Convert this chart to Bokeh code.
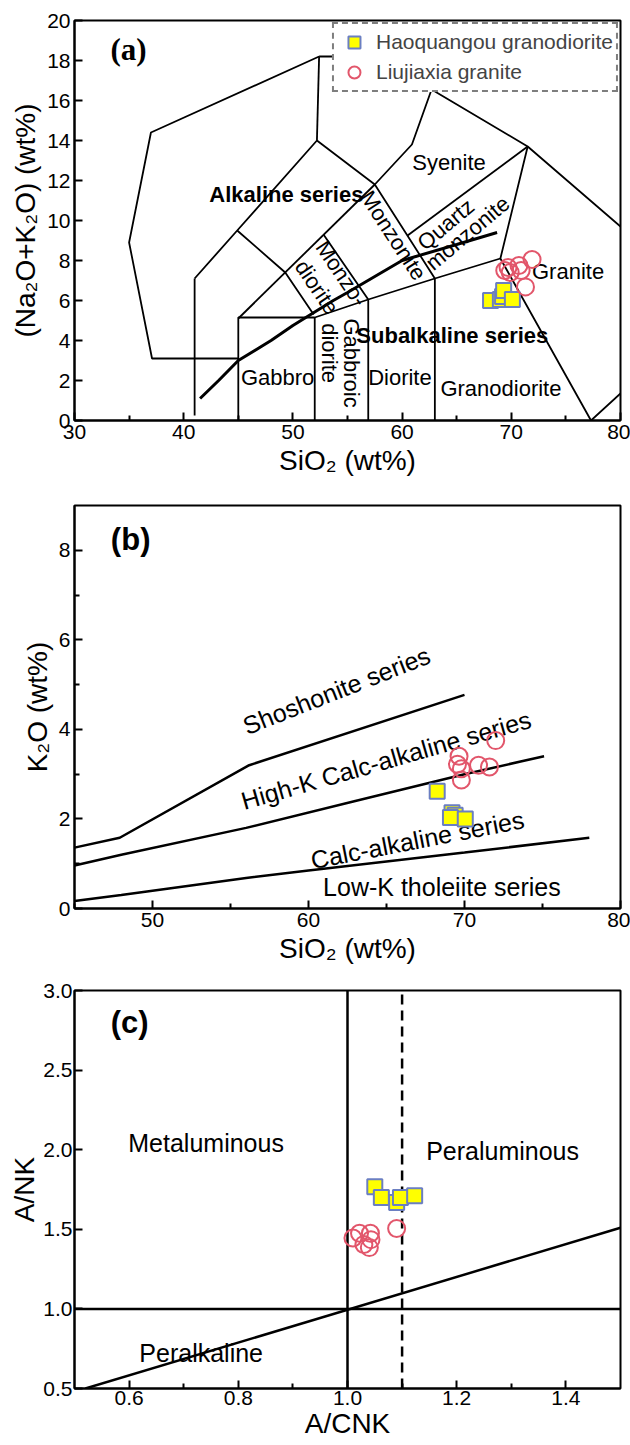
from bokeh.plotting import figure
from bokeh.layouts import column
from bokeh.models import Range1d, FixedTicker, PrintfTickFormatter, Legend, LegendItem
from bokeh.embed import file_html
from bokeh.resources import INLINE
from bokeh.core.properties import value

FONT = "Liberation Sans"
SERIF = "Liberation Serif"
HQ_FILL = "#ffff00"
HQ_LINE = "#6b7fc2"
LJ_LINE = "#e2566b"

# ---------------- (a) TAS data ----------------
a_hq_sio2 = [68.1, 69.0, 69.2, 69.3, 70.1]
a_hq_alk = [6.0, 6.05, 6.2, 6.5, 6.05]
a_lj_sio2 = [69.4, 69.7, 69.9, 70.7, 70.9, 71.9, 71.3]
a_lj_alk = [7.5, 7.65, 7.4, 7.75, 7.5, 8.05, 6.68]

a_bound_x = [
    [52.4, 37.0, 35.0, 37.1, 45.0],
    [52.4, 56.5, 62.7, 71.5, 80.0],
    [52.4, 52.2],
    [41.0, 44.9, 52.2, 57.5, 60.9, 62.7],
    [45.0, 57.5],
    [44.9, 49.3, 51.9],
    [52.8, 56.9, 56.9],
    [57.5, 63.0, 63.0],
    [60.5, 71.5],
    [71.5, 69.0, 77.3, 80.0],
    [45.0, 45.0, 52.0, 56.9, 63.0, 69.0],
    [52.0, 52.0],
    [41.0, 41.0],
]
a_bound_y = [
    [18.2, 14.4, 8.9, 3.1, 3.1],
    [18.2, 18.2, 16.55, 13.7, 9.7],
    [18.2, 14.0],
    [7.1, 9.5, 14.0, 11.8, 13.8, 16.55],
    [5.1, 11.8],
    [9.5, 7.4, 5.3],
    [9.3, 6.05, 0.0],
    [11.8, 7.1, 0.0],
    [9.25, 13.7],
    [13.7, 8.1, 0.0, 1.35],
    [0.0, 5.15, 5.15, 6.05, 7.1, 8.1],
    [0.0, 5.15],
    [0.25, 7.1],
]
a_ib_x = [41.5, 43.2, 45.0, 48.0, 50.0, 53.7, 55.0, 60.0, 65.0, 68.7]
a_ib_y = [1.1, 2.0, 3.0, 4.0, 4.75, 6.0, 6.4, 8.0, 8.8, 9.4]

a_lab_text = ["Syenite", "Gabbro", "Diorite", "Granodiorite", "Granite",
              "Quartz", "monzonite", "Monzonite", "Monzo-", "diorite", "Gabbroic", "diorite"]
a_lab_x = [64.3, 48.6, 59.8, 69.05, 75.2, 64.0, 66.0, 59.2, 54.45, 52.2, 55.4, 53.35]
a_lab_y = [12.9, 2.17, 2.17, 1.58, 7.47, 9.8, 9.37, 9.25, 7.35, 6.67, 2.87, 3.37]
a_lab_ang = [0, 0, 0, 0, 0, 40, 40, -57, -56, -56, -90, -90]
a_bold_text = ["Alkaline series", "Subalkaline series"]
a_bold_x = [49.4, 64.6]
a_bold_y = [11.3, 4.25]

# ---------------- (b) K2O-SiO2 data ----------------
b_hq_sio2 = [68.25, 69.2, 69.4, 69.1, 70.05]
b_hq_k2o = [2.62, 2.14, 2.08, 2.03, 2.0]
b_lj_sio2 = [72.0, 69.65, 69.55, 69.8, 70.9, 71.6, 69.8]
b_lj_k2o = [3.75, 3.4, 3.22, 3.12, 3.2, 3.16, 2.87]

b_line_x = [
    [45.0, 47.9, 56.2, 70.0],
    [45.0, 48.0, 56.0, 63.0, 70.0, 75.1],
    [45.0, 48.0, 56.0, 60.0, 70.0, 78.0],
]
b_line_y = [
    [1.36, 1.58, 3.2, 4.77],
    [0.96, 1.2, 1.8, 2.4, 3.0, 3.4],
    [0.17, 0.3, 0.68, 0.85, 1.25, 1.58],
]
b_lab_text = ["Shoshonite  series", "High-K  Calc-alkaline  series",
              "Calc-alkaline  series", "Low-K tholeiite series"]
b_lab_x = [62.0, 65.4, 67.2, 68.55]
b_lab_y = [4.9, 3.36, 1.55, 0.47]
b_lab_ang = [21.5, 16, 11, 0]

# ---------------- (c) A/NK - A/CNK data ----------------
c_hq_acnk = [1.05, 1.062, 1.09, 1.097, 1.123]
c_hq_ank = [1.767, 1.70, 1.669, 1.70, 1.71]
c_lj_acnk = [1.01, 1.022, 1.042, 1.043, 1.03, 1.04, 1.09]
c_lj_ank = [1.445, 1.475, 1.475, 1.435, 1.405, 1.385, 1.505]

c_solid_x = [[1.0, 1.0], [0.5, 1.5], [0.52, 1.5]]
c_solid_y = [[0.5, 3.0], [1.0, 1.0], [0.5, 1.51]]
c_dash_x = [1.1, 1.1]
c_dash_y = [0.5, 3.0]
c_lab_text = ["Metaluminous", "Peraluminous", "Peralkaline"]
c_lab_x = [0.741, 1.284, 0.732]
c_lab_y = [2.04, 1.99, 0.72]

a_xticks = [30, 40, 50, 60, 70, 80]
a_xminor = [35, 45, 55, 65, 75]
a_yticks = [0, 2, 4, 6, 8, 10, 12, 14, 16, 18, 20]
b_xticks = [50, 60, 70, 80]
b_xminor = [45, 55, 65, 75]
b_yticks = [0, 2, 4, 6, 8]
b_yminor = [1, 3, 5, 7]
c_xticks = [0.6, 0.8, 1.0, 1.2, 1.4]
c_xminor = [0.7, 0.9, 1.1, 1.3]
c_yticks = [0.5, 1.0, 1.5, 2.0, 2.5, 3.0]


def make_fig(xr, yr, height, top, bottom, xt, xm, yt, ym, xfmt, yfmt, xlabel, ylabel,
             lab_standoff=4, ax_standoff=3):
    p = figure(width=630, height=height, x_range=Range1d(*xr), y_range=Range1d(*yr),
               output_backend="svg", toolbar_location=None,
               min_border_left=74, min_border_right=10,
               min_border_top=top, min_border_bottom=bottom)
    p.xgrid.visible = False
    p.ygrid.visible = False
    p.outline_line_color = "black"
    p.outline_line_width = 2
    p.outline_line_alpha = 1
    p.xaxis.ticker = FixedTicker(ticks=xt, minor_ticks=xm)
    p.yaxis.ticker = FixedTicker(ticks=yt, minor_ticks=ym)
    if xfmt:
        p.xaxis.formatter = PrintfTickFormatter(format=xfmt)
    if yfmt:
        p.yaxis.formatter = PrintfTickFormatter(format=yfmt)
    p.xaxis.axis_label = xlabel
    p.yaxis.axis_label = ylabel
    for ax in (p.xaxis[0], p.yaxis[0]):
        ax.axis_line_width = 2
        ax.axis_line_color = "black"
        ax.major_tick_line_width = 2
        ax.minor_tick_line_width = 2
        ax.major_tick_in = 8
        ax.major_tick_out = 0
        ax.minor_tick_in = 5
        ax.minor_tick_out = 0
        ax.major_label_text_font = FONT
        ax.major_label_text_font_size = "21px"
        ax.major_label_text_color = "black"
        ax.major_label_standoff = lab_standoff
        ax.axis_label_text_font = FONT
        ax.axis_label_text_font_size = "28px"
        ax.axis_label_text_font_style = "normal"
        ax.axis_label_text_color = "black"
        ax.axis_label_standoff = ax_standoff
    return p


def add_points(p, hx, hy, lx, ly):
    sq = p.scatter(hx, hy, marker="square", size=15, fill_color=HQ_FILL,
                   line_color=HQ_LINE, line_width=2)
    ci = p.scatter(lx, ly, marker="circle", size=17, fill_alpha=0,
                   line_color=LJ_LINE, line_width=2)
    return sq, ci


# ---------------- figure (a) ----------------
pa = make_fig((30, 80), (0, 20), 483, 20, 63, a_xticks, a_xminor, a_yticks, [],
              None, None, "SiO\u2082 (wt%)", "(Na\u2082O+K\u2082O) (wt%)")
pa.multi_line(a_bound_x, a_bound_y, line_color="black", line_width=1.8)
pa.line(a_ib_x, a_ib_y, line_color="black", line_width=3)
pa.text(a_lab_x, a_lab_y, text=a_lab_text, angle=a_lab_ang, angle_units="deg",
        text_font=value(FONT), text_font_size="22px", text_align="center",
        text_baseline="middle", text_color="black")
pa.text(a_bold_x, a_bold_y, text=a_bold_text, text_font=value(FONT),
        text_font_size="22px", text_font_style="bold", text_align="center",
        text_baseline="middle", text_color="black")
pa.text([34.95], [18.55], text=["(a)"], text_font=value(SERIF), text_font_size="31px",
        text_font_style="bold", text_align="center", text_baseline="middle")
sq_a, ci_a = add_points(pa, a_hq_sio2, a_hq_alk, a_lj_sio2, a_lj_alk)
legend = Legend(items=[LegendItem(label="Haoquangou granodiorite", renderers=[sq_a]),
                       LegendItem(label="Liujiaxia granite", renderers=[ci_a])],
                location="top_right", margin=2, padding=3, spacing=-1,
                glyph_width=34, glyph_height=30, label_height=24, label_standoff=5,
                label_text_font=FONT, label_text_font_size="21px",
                border_line_color="black", border_line_width=2, border_line_dash="8 5",
                background_fill_color="white", background_fill_alpha=1.0)
pa.add_layout(legend, "center")

# ---------------- figure (b) ----------------
pb = make_fig((45, 80), (0, 9), 488, 22, 63, b_xticks, b_xminor, b_yticks, b_yminor,
              None, None, "SiO\u2082 (wt%)", "K\u2082O (wt%)")
pb.multi_line(b_line_x, b_line_y, line_color="black", line_width=2.5)
pb.text(b_lab_x, b_lab_y, text=b_lab_text, angle=b_lab_ang, angle_units="deg",
        text_font=value(FONT), text_font_size="25px", text_align="center",
        text_baseline="middle", text_color="black")
pb.text([48.6], [8.24], text=["(b)"], text_font=value(FONT), text_font_size="31px",
        text_font_style="bold", text_align="center", text_baseline="middle")
add_points(pb, b_hq_sio2, b_hq_k2o, b_lj_sio2, b_lj_k2o)

# ---------------- figure (c) ----------------
pc = make_fig((0.5, 1.5), (0.5, 3.0), 474, 19, 57, c_xticks, c_xminor, c_yticks, [],
              "%.1f", "%.1f", "A/CNK", "A/NK", lab_standoff=2, ax_standoff=0)
pc.multi_line(c_solid_x, c_solid_y, line_color="black", line_width=2.5)
pc.line(c_dash_x, c_dash_y, line_color="black", line_width=2.5, line_dash="10 6")
pc.text(c_lab_x, c_lab_y, text=c_lab_text, text_font=value(FONT), text_font_size="25px",
        text_align="center", text_baseline="middle", text_color="black")
pc.text([0.601], [2.80], text=["(c)"], text_font=value(FONT), text_font_size="31px",
        text_font_style="bold", text_align="center", text_baseline="middle")
add_points(pc, c_hq_acnk, c_hq_ank, c_lj_acnk, c_lj_ank)

layout = column(pa, pb, pc, spacing=0)
open("out.html", "w").write(file_html(layout, INLINE))
